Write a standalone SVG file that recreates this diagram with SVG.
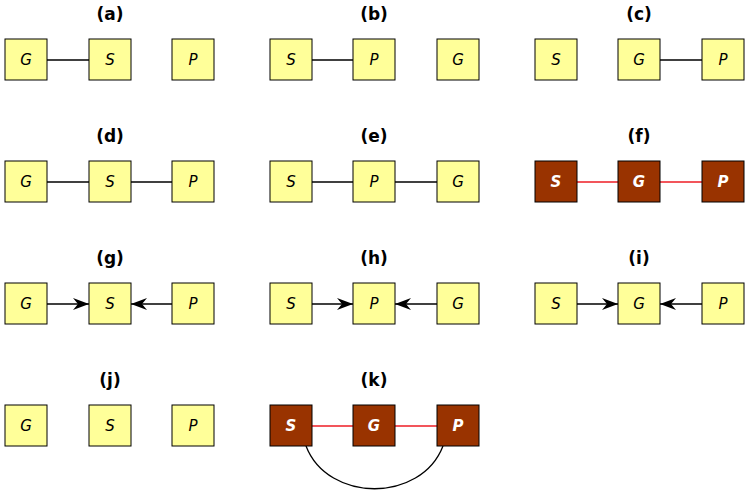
<svg xmlns="http://www.w3.org/2000/svg" width="749" height="495" viewBox="0 0 749 495">
<defs>
<style>
.t{font-family:"DejaVu Sans",sans-serif;font-weight:bold;font-size:17px;text-anchor:middle;fill:#000}
.n rect{fill:#ffff99;stroke:#000;stroke-width:1}
.n text{font-family:"DejaVu Sans",sans-serif;font-style:italic;font-size:15px;text-anchor:middle;fill:#000}
.d rect{fill:#993300;stroke:#000;stroke-width:1}
.d text{font-family:"DejaVu Sans",sans-serif;font-style:italic;font-weight:bold;font-size:15px;text-anchor:middle;fill:#fff}
.e{stroke:#000;stroke-width:1.3;fill:none}
.r{stroke:#ee1c24;stroke-width:1.3;fill:none}
.a{stroke:#000;stroke-width:1.3;fill:none;marker-end:url(#ah)}
</style>
<marker id="ah" viewBox="0 0 16 12" refX="16" refY="6" markerWidth="16" markerHeight="12" markerUnits="userSpaceOnUse" orient="auto">
<path d="M0,0 L16,6 L0,12 L5,6 Z" fill="#000"/>
</marker>
</defs>
<g id="titles">
<text class="t" x="110" y="20">(a)</text>
<text class="t" x="374" y="20">(b)</text>
<text class="t" x="639" y="20">(c)</text>
<text class="t" x="110" y="142">(d)</text>
<text class="t" x="374" y="142">(e)</text>
<text class="t" x="639" y="142">(f)</text>
<text class="t" x="110" y="264">(g)</text>
<text class="t" x="374" y="264">(h)</text>
<text class="t" x="639" y="264">(i)</text>
<text class="t" x="110" y="386">(j)</text>
<text class="t" x="374" y="386">(k)</text>
</g>
<g id="connectors">
<line class="e" x1="47" y1="60" x2="89" y2="60"/>
<line class="e" x1="312" y1="60" x2="353" y2="60"/>
<line class="e" x1="660" y1="60" x2="702" y2="60"/>
<line class="e" x1="47" y1="182" x2="89" y2="182"/>
<line class="e" x1="131" y1="182" x2="172" y2="182"/>
<line class="e" x1="312" y1="182" x2="353" y2="182"/>
<line class="e" x1="395" y1="182" x2="437" y2="182"/>
<line class="r" x1="577" y1="182" x2="618" y2="182"/>
<line class="r" x1="660" y1="182" x2="702" y2="182"/>
<line class="a" x1="47" y1="304" x2="89" y2="304"/>
<line class="a" x1="172" y1="304" x2="131" y2="304"/>
<line class="a" x1="312" y1="304" x2="353" y2="304"/>
<line class="a" x1="437" y1="304" x2="395" y2="304"/>
<line class="a" x1="577" y1="304" x2="618" y2="304"/>
<line class="a" x1="702" y1="304" x2="660" y2="304"/>
<line class="r" x1="312" y1="426" x2="353" y2="426"/>
<line class="r" x1="395" y1="426" x2="437" y2="426"/>
<path class="e" d="M306,446 C328,503 421,503 443,446"/>
</g>
<g id="a-G" class="n"><rect x="5" y="39" width="42" height="41"/><text x="26" y="65">G</text></g>
<g id="a-S" class="n"><rect x="89" y="39" width="42" height="41"/><text x="110" y="65">S</text></g>
<g id="a-P" class="n"><rect x="172" y="39" width="42" height="41"/><text x="193" y="65">P</text></g>
<g id="b-S" class="n"><rect x="270" y="39" width="42" height="41"/><text x="291" y="65">S</text></g>
<g id="b-P" class="n"><rect x="353" y="39" width="42" height="41"/><text x="374" y="65">P</text></g>
<g id="b-G" class="n"><rect x="437" y="39" width="42" height="41"/><text x="458" y="65">G</text></g>
<g id="c-S" class="n"><rect x="535" y="39" width="42" height="41"/><text x="556" y="65">S</text></g>
<g id="c-G" class="n"><rect x="618" y="39" width="42" height="41"/><text x="639" y="65">G</text></g>
<g id="c-P" class="n"><rect x="702" y="39" width="42" height="41"/><text x="723" y="65">P</text></g>
<g id="d-G" class="n"><rect x="5" y="161" width="42" height="41"/><text x="26" y="187">G</text></g>
<g id="d-S" class="n"><rect x="89" y="161" width="42" height="41"/><text x="110" y="187">S</text></g>
<g id="d-P" class="n"><rect x="172" y="161" width="42" height="41"/><text x="193" y="187">P</text></g>
<g id="e-S" class="n"><rect x="270" y="161" width="42" height="41"/><text x="291" y="187">S</text></g>
<g id="e-P" class="n"><rect x="353" y="161" width="42" height="41"/><text x="374" y="187">P</text></g>
<g id="e-G" class="n"><rect x="437" y="161" width="42" height="41"/><text x="458" y="187">G</text></g>
<g id="f-S" class="d"><rect x="535" y="161" width="42" height="41"/><text x="556" y="187">S</text></g>
<g id="f-G" class="d"><rect x="618" y="161" width="42" height="41"/><text x="639" y="187">G</text></g>
<g id="f-P" class="d"><rect x="702" y="161" width="42" height="41"/><text x="723" y="187">P</text></g>
<g id="g-G" class="n"><rect x="5" y="283" width="42" height="41"/><text x="26" y="309">G</text></g>
<g id="g-S" class="n"><rect x="89" y="283" width="42" height="41"/><text x="110" y="309">S</text></g>
<g id="g-P" class="n"><rect x="172" y="283" width="42" height="41"/><text x="193" y="309">P</text></g>
<g id="h-S" class="n"><rect x="270" y="283" width="42" height="41"/><text x="291" y="309">S</text></g>
<g id="h-P" class="n"><rect x="353" y="283" width="42" height="41"/><text x="374" y="309">P</text></g>
<g id="h-G" class="n"><rect x="437" y="283" width="42" height="41"/><text x="458" y="309">G</text></g>
<g id="i-S" class="n"><rect x="535" y="283" width="42" height="41"/><text x="556" y="309">S</text></g>
<g id="i-G" class="n"><rect x="618" y="283" width="42" height="41"/><text x="639" y="309">G</text></g>
<g id="i-P" class="n"><rect x="702" y="283" width="42" height="41"/><text x="723" y="309">P</text></g>
<g id="j-G" class="n"><rect x="5" y="405" width="42" height="41"/><text x="26" y="431">G</text></g>
<g id="j-S" class="n"><rect x="89" y="405" width="42" height="41"/><text x="110" y="431">S</text></g>
<g id="j-P" class="n"><rect x="172" y="405" width="42" height="41"/><text x="193" y="431">P</text></g>
<g id="k-S" class="d"><rect x="270" y="405" width="42" height="41"/><text x="291" y="431">S</text></g>
<g id="k-G" class="d"><rect x="353" y="405" width="42" height="41"/><text x="374" y="431">G</text></g>
<g id="k-P" class="d"><rect x="437" y="405" width="42" height="41"/><text x="458" y="431">P</text></g>
</svg>
